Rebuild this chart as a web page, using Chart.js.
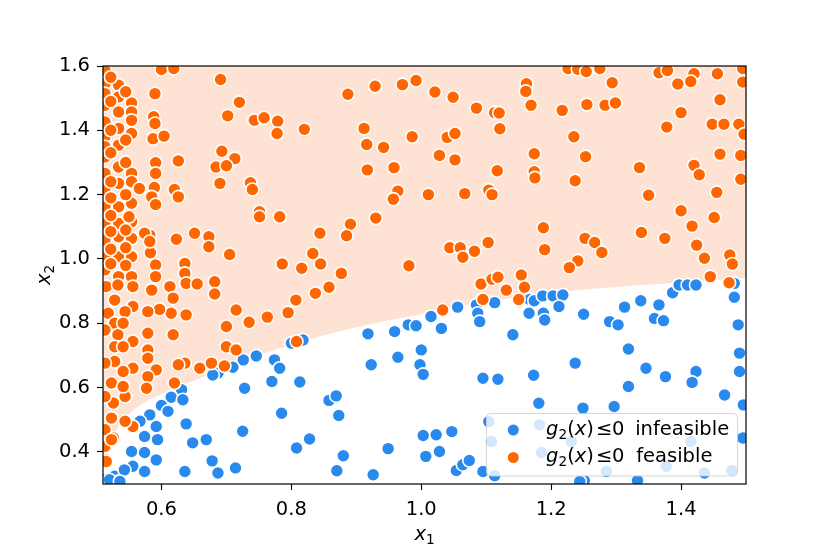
<!DOCTYPE html>
<html>
<head>
<meta charset="utf-8">
<script src="https://cdn.jsdelivr.net/npm/chart.js@4.4.1/dist/chart.umd.min.js"></script>
<style>
  html, body { margin: 0; padding: 0; background: #fff; }
  #wrap { width: 830px; height: 554px; }
</style>
</head>
<body>
<div id="wrap"><canvas id="chart"></canvas></div>
<script>
// axis ticks
const xTicks = [0.6, 0.8, 1.0, 1.2, 1.4];
const yTicks = [0.4, 0.6, 0.8, 1.0, 1.2, 1.4, 1.6];

// boundary of the feasible region g2(x) <= 0 (region lies above it)
const boundaryX = [0.51, 0.525, 0.54, 0.56, 0.6, 0.65, 0.70, 0.76, 0.82, 0.88, 0.96, 1.08, 1.19, 1.29, 1.39, 1.5];
const boundaryY = [0.37, 0.445, 0.495, 0.535, 0.580, 0.622, 0.660, 0.708, 0.745, 0.778, 0.812, 0.860, 0.892, 0.911, 0.926, 0.941];

// sampled points, [x1, x2]
const feasible = [
  [0.513,1.587],[0.513,1.545],[0.513,1.514],[0.513,1.478],[0.513,1.426],[0.513,1.380],[0.513,1.349],[0.513,1.317],
  [0.513,1.266],[0.513,1.214],[0.513,1.162],[0.513,1.110],[0.513,1.059],[0.513,1.007],[0.513,0.966],
  [0.534,1.540],[0.534,1.504],[0.534,1.457],[0.534,1.406],[0.534,1.354],[0.534,1.286],[0.534,1.235],[0.534,1.162],
  [0.534,1.110],[0.534,1.069],[0.534,1.007],[0.534,0.945],
  [0.554,1.485],[0.554,1.457],[0.554,1.431],[0.554,1.390],[0.554,1.266],[0.554,1.240],[0.554,1.173],[0.554,1.116],
  [0.554,1.064],[0.554,1.007],[0.554,0.945],
  [0.522,1.565],[0.522,1.490],[0.522,1.400],[0.522,1.330],[0.522,1.240],[0.522,1.190],[0.522,1.135],[0.522,1.085],
  [0.522,1.030],[0.522,0.985],
  [0.545,1.520],[0.545,1.370],[0.545,1.300],[0.545,1.200],[0.545,1.090],[0.545,1.035],[0.545,0.980],
  [0.566,1.219],[0.550,1.131],[0.600,1.589],[0.619,1.592],[0.590,1.514],[0.588,1.442],[0.590,1.421],[0.587,1.374],
  [0.604,1.382],[0.591,1.299],[0.591,1.266],[0.589,1.222],[0.585,1.193],[0.591,1.169],[0.626,1.305],[0.620,1.216],
  [0.626,1.193],[0.691,1.558],[0.720,1.487],[0.702,1.445],[0.743,1.431],[0.758,1.439],[0.779,1.428],[0.778,1.390],
  [0.820,1.403],[0.693,1.335],[0.713,1.312],[0.684,1.286],[0.700,1.290],[0.690,1.235],[0.737,1.237],[0.740,1.216],
  [0.751,1.147],[0.751,1.131],[0.782,1.131],[0.844,1.080],[0.582,1.074],[0.574,1.080],[0.623,1.061],[0.651,1.080],
  [0.673,1.069],[0.673,1.038],[0.705,1.014],[0.786,0.984],[0.816,0.971],[0.845,0.984],[0.833,1.017],[0.636,0.986],
  [0.636,0.955],[0.583,1.019],[0.582,1.054],[0.591,0.981],[0.591,0.945],
  [0.515,0.914],[0.533,0.919],[0.556,0.914],[0.585,0.903],[0.613,0.914],[0.638,0.924],[0.655,0.922],[0.682,0.929],
  [0.682,0.891],[0.618,0.878],[0.638,0.826],[0.615,0.831],[0.597,0.843],[0.579,0.836],[0.556,0.852],[0.544,0.836],
  [0.528,0.872],[0.518,0.831],[0.528,0.800],[0.533,0.764],[0.528,0.727],[0.528,0.681],[0.556,0.743],[0.579,0.769],
  [0.579,0.717],[0.579,0.691],[0.592,0.655],[0.579,0.634],[0.577,0.598],[0.556,0.660],[0.541,0.650],[0.523,0.614],
  [0.526,0.552],[0.523,0.505],[0.526,0.443],[0.515,0.375],[0.544,0.572],[0.556,0.479],[0.544,0.495],[0.715,0.841],
  [0.735,0.803],[0.763,0.819],[0.795,0.833],[0.807,0.872],[0.837,0.893],[0.858,0.912],[0.700,0.790],[0.700,0.727],
  [0.715,0.717],[0.618,0.764],[0.636,0.676],[0.626,0.671],[0.659,0.660],[0.677,0.676],[0.697,0.667],[0.620,0.614],
  [0.808,0.743],[0.513,0.779],[0.513,0.676],[0.513,0.572],[0.513,0.469],[0.513,0.417],[0.541,0.800],[0.541,0.727],
  [0.541,0.603],[0.523,0.438],[0.515,0.370],
  [0.887,1.512],[0.929,1.537],[0.971,1.542],[0.992,1.555],[1.021,1.519],[1.049,1.503],[1.085,1.469],[1.113,1.455],
  [1.120,1.454],[1.162,1.545],[1.161,1.521],[1.169,1.478],[0.912,1.406],[0.986,1.380],[1.040,1.378],[1.052,1.390],
  [0.916,1.356],[0.942,1.347],[1.028,1.322],[1.052,1.308],[1.121,1.405],[1.174,1.327],[0.917,1.277],[0.958,1.284],
  [1.117,1.274],[1.174,1.271],[1.175,1.252],[0.964,1.211],[0.957,1.186],[1.011,1.200],[1.067,1.203],[1.104,1.214],
  [1.109,1.200],[0.891,1.108],[0.885,1.072],[0.930,1.127],[1.044,1.035],[1.060,1.035],[1.064,1.005],[1.082,1.024],
  [1.103,1.051],[0.981,0.979],
  [1.226,1.592],[1.241,1.590],[1.254,1.583],[1.275,1.592],[1.366,1.579],[1.379,1.586],[1.420,1.576],[1.395,1.544],
  [1.415,1.552],[1.456,1.576],[1.495,1.592],[1.495,1.550],[1.294,1.548],[1.217,1.462],[1.255,1.480],[1.283,1.478],
  [1.299,1.485],[1.400,1.455],[1.378,1.410],[1.460,1.495],[1.448,1.419],[1.466,1.419],[1.489,1.419],[1.497,1.388],
  [1.235,1.380],[1.253,1.318],[1.237,1.243],[1.336,1.284],[1.420,1.291],[1.428,1.262],[1.460,1.326],[1.492,1.322],
  [1.492,1.248],[1.350,1.198],[1.455,1.207],[1.400,1.150],[1.417,1.102],[1.451,1.129],[1.188,1.097],[1.190,1.029],
  [1.252,1.064],[1.267,1.051],[1.278,1.020],[1.241,0.994],[1.228,0.973],[1.339,1.082],[1.375,1.064],[1.424,1.043],
  [1.436,1.002],[1.475,1.012],[1.479,0.984],
  [0.877,0.955],[1.092,0.922],[1.109,0.937],[1.118,0.943],[1.131,0.903],[1.154,0.950],[1.159,0.912],[1.150,0.874],
  [1.095,0.874],[1.033,0.841],[1.445,0.945],[1.474,0.926]
];

const infeasible = [
  [0.726,0.686],[0.746,0.698],[0.774,0.686],[0.782,0.660],[0.770,0.619],[0.813,0.617],[0.728,0.598],[0.687,0.645],
  [0.679,0.639],[0.710,0.663],[0.631,0.593],[0.615,0.570],[0.600,0.544],[0.610,0.526],[0.633,0.562],[0.582,0.515],
  [0.592,0.479],[0.567,0.495],[0.638,0.487],[0.596,0.438],[0.574,0.448],[0.556,0.401],[0.572,0.401],[0.592,0.375],
  [0.556,0.355],[0.541,0.342],[0.574,0.339],[0.528,0.324],[0.510,0.313],[0.636,0.339],[0.650,0.429],[0.669,0.438],
  [0.678,0.372],[0.687,0.334],[0.714,0.350],[0.785,0.520],[0.725,0.464],[0.808,0.412],[0.828,0.440],[0.858,0.560],
  [0.533,0.308],[0.818,0.748],[0.800,0.738],[0.554,0.401],[0.574,0.398],[0.594,0.438],[0.543,0.344],[0.520,0.313],
  [0.536,0.308],[0.648,0.428],
  [1.056,0.850],[1.085,0.857],[1.087,0.831],[1.090,0.805],[1.113,0.864],[1.167,0.874],[1.174,0.870],[1.166,0.831],
  [1.015,0.821],[1.031,0.784],[0.980,0.795],[0.992,0.792],[0.959,0.774],[0.918,0.767],[1.141,0.764],[0.923,0.671],
  [0.964,0.694],[1.000,0.717],[0.998,0.671],[1.003,0.641],[1.095,0.629],[1.118,0.626],[1.173,0.638],[1.181,0.551],
  [0.869,0.574],[0.873,0.513],[1.104,0.494],[1.003,0.451],[1.023,0.453],[1.047,0.463],[0.949,0.410],[1.007,0.386],
  [1.028,0.401],[0.880,0.388],[0.870,0.341],[0.926,0.329],[1.054,0.342],[1.064,0.360],[1.074,0.373],[1.095,0.339],
  [1.113,0.326],[1.108,0.432],[1.182,0.484],[1.185,0.398],
  [1.187,0.885],[1.203,0.885],[1.218,0.888],[1.188,0.831],[1.190,0.810],[1.212,0.852],[1.250,0.828],[1.290,0.805],
  [1.303,0.795],[1.313,0.850],[1.338,0.870],[1.366,0.857],[1.359,0.815],[1.373,0.808],[1.387,0.895],[1.397,0.919],
  [1.410,0.919],[1.423,0.919],[1.482,0.924],[1.482,0.881],[1.488,0.795],[1.319,0.720],[1.237,0.676],[1.346,0.660],
  [1.376,0.634],[1.423,0.650],[1.417,0.616],[1.319,0.603],[1.467,0.577],[1.490,0.707],[1.490,0.650],[1.496,0.546],
  [1.249,0.536],[1.297,0.541],[1.495,0.443],[1.436,0.334],[1.478,0.342],[1.251,0.311],[1.333,0.311],[1.244,0.308],
  [1.231,0.432],[1.285,0.339],[1.377,0.355],[1.415,0.432]
];

const legendLabels = ['infeasible', 'feasible'];

const BLUE = '#2a89ec';
const ORANGE = '#ff6600';
const PEACH = '#fee2d3';
const FONT = '"DejaVu Sans", sans-serif';
const FS = 19.5;

function toXY(list) {
  return list.map(p => ({ x: p[0], y: p[1] }));
}

// pieces: [text, 'r' regular | 'i' italic | 's' subscript]
function setFont(ctx, s) {
  ctx.font = (s === 'i' ? 'italic ' : '') + (s === 's' ? FS * 0.7 : FS) + 'px ' + FONT;
}
function mathWidth(ctx, pieces) {
  let w = 0;
  for (const [t, s] of pieces) {
    setFont(ctx, s);
    w += ctx.measureText(t).width;
  }
  return w;
}
function drawMath(ctx, pieces, x, y) {
  let cx = x;
  ctx.textAlign = 'left';
  ctx.textBaseline = 'alphabetic';
  for (const [t, s] of pieces) {
    setFont(ctx, s);
    ctx.fillText(t, cx, y + (s === 's' ? FS * 0.2 : 0));
    cx += ctx.measureText(t).width;
  }
}
// draw text so that its ink starts at inkLeft
function drawInkAt(ctx, text, inkLeft, y) {
  setFont(ctx, 'r');
  ctx.textAlign = 'left';
  ctx.textBaseline = 'alphabetic';
  const m = ctx.measureText(text);
  ctx.fillText(text, inkLeft + m.actualBoundingBoxLeft, y);
}

const framePlugin = {
  id: 'frame',
  afterDatasetsDraw(chart) {
    const { ctx, chartArea: a } = chart;
    ctx.save();
    ctx.strokeStyle = '#000';
    ctx.lineWidth = 1.2;
    ctx.strokeRect(a.left, a.top, a.right - a.left, a.bottom - a.top);
    ctx.restore();
  }
};

const textPlugin = {
  id: 'mathText',
  afterDraw(chart) {
    const { ctx, chartArea: a } = chart;
    ctx.save();
    ctx.fillStyle = '#000';
    // axis titles
    const t1 = [['x', 'i'], ['1', 's']];
    drawMath(ctx, t1, (a.left + a.right) / 2 - mathWidth(ctx, t1) / 2, 540);
    const t2 = [['x', 'i'], ['2', 's']];
    ctx.translate(50, (a.top + a.bottom) / 2);
    ctx.rotate(-Math.PI / 2);
    drawMath(ctx, t2, -mathWidth(ctx, t2) / 2, 0);
    ctx.restore();

    // legend box
    ctx.save();
    const bx = 486.5, by = 413.5, bw = 251, bh = 62.5, r = 4;
    ctx.beginPath();
    ctx.moveTo(bx + r, by);
    ctx.arcTo(bx + bw, by, bx + bw, by + bh, r);
    ctx.arcTo(bx + bw, by + bh, bx, by + bh, r);
    ctx.arcTo(bx, by + bh, bx, by, r);
    ctx.arcTo(bx, by, bx + bw, by, r);
    ctx.closePath();
    ctx.fillStyle = 'rgba(255,255,255,0.8)';
    ctx.fill();
    ctx.strokeStyle = 'rgba(204,204,204,0.8)';
    ctx.lineWidth = 1;
    ctx.stroke();
    const colors = [BLUE, ORANGE];
    const gx = [['g', 'i'], ['2', 's'], ['(', 'r'], ['x', 'i'], [')', 'r']];
    setFont(ctx, 'r');
    const pm = ctx.measureText(')');
    const groupStart = 592.3 + (pm.width - pm.actualBoundingBoxRight) - mathWidth(ctx, gx);
    legendLabels.forEach((lab, i) => {
      const my = 430 + i * 27.5;
      const base = my + 4.8;
      ctx.beginPath();
      ctx.arc(513.3, my, 6.2, 0, Math.PI * 2);
      ctx.fillStyle = colors[i];
      ctx.fill();
      ctx.strokeStyle = '#fff';
      ctx.lineWidth = 1.4;
      ctx.stroke();
      ctx.fillStyle = '#000';
      drawMath(ctx, gx, groupStart, base);
      drawInkAt(ctx, '\u2264', 598, base);
      drawInkAt(ctx, '0', 613, base);
      drawInkAt(ctx, lab, 636.2, base);
    });
    ctx.restore();
  }
};

const tickFont = { family: FONT, size: FS };

new Chart(document.getElementById('chart'), {
  type: 'scatter',
  data: {
    datasets: [
      {
        label: legendLabels[1],
        data: toXY(feasible),
        backgroundColor: ORANGE,
        borderColor: '#fff',
        borderWidth: 1.6,
        pointRadius: 6.5,
        pointHoverRadius: 6.5,
        clip: 0,
        order: 1
      },
      {
        label: legendLabels[0],
        data: toXY(infeasible),
        backgroundColor: BLUE,
        borderColor: '#fff',
        borderWidth: 1.6,
        pointRadius: 6.5,
        pointHoverRadius: 6.5,
        clip: 0,
        order: 2
      },
      {
        type: 'line',
        label: 'region',
        data: boundaryX.map((x, i) => ({ x: x, y: boundaryY[i] })),
        fill: 'end',
        backgroundColor: PEACH,
        borderWidth: 0,
        pointRadius: 0,
        cubicInterpolationMode: 'monotone',
        clip: 0,
        order: 3
      }
    ]
  },
  options: {
    responsive: true,
    maintainAspectRatio: false,
    animation: false,
    layout: { padding: { left: 0, top: 66, right: 84, bottom: 0 } },
    plugins: { legend: { display: false }, tooltip: { enabled: false } },
    scales: {
      x: {
        type: 'linear',
        min: 0.51,
        max: 1.5,
        afterBuildTicks: s => { s.ticks = xTicks.map(v => ({ value: v })); },
        afterFit: s => { s.height = 70; },
        border: { display: false },
        grid: { display: true, drawOnChartArea: false, drawTicks: true, tickLength: 6, tickColor: '#000', tickWidth: 1.1 },
        ticks: { color: '#000', font: tickFont, padding: 8, maxRotation: 0, autoSkip: false, callback: v => v.toFixed(1) }
      },
      y: {
        type: 'linear',
        min: 0.3,
        max: 1.6,
        afterBuildTicks: s => { s.ticks = yTicks.map(v => ({ value: v })); },
        afterFit: s => { s.width = 103; },
        border: { display: false },
        grid: { display: true, drawOnChartArea: false, drawTicks: true, tickLength: 6, tickColor: '#000', tickWidth: 1.1 },
        ticks: { color: '#000', font: tickFont, padding: 7, autoSkip: false, callback: v => v.toFixed(1) }
      }
    }
  },
  plugins: [framePlugin, textPlugin]
});
</script>
</body>
</html>
